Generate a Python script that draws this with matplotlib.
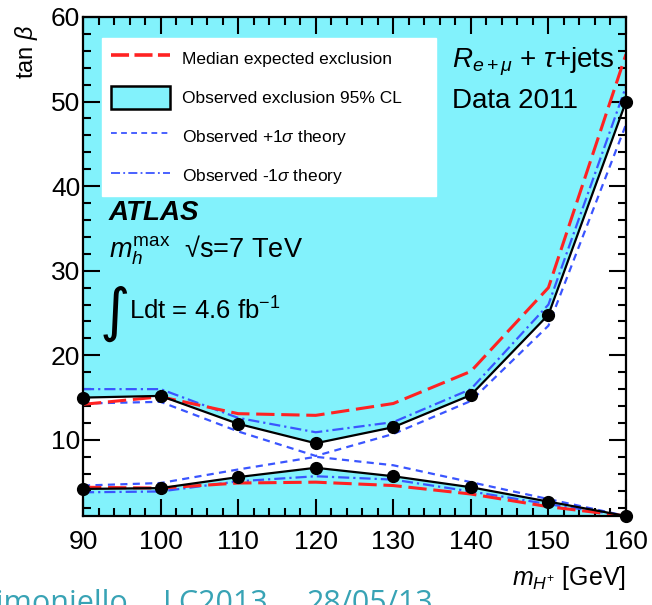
import matplotlib
matplotlib.use("Agg")
import matplotlib.pyplot as plt
from matplotlib.lines import Line2D
from matplotlib.patches import Patch
from matplotlib.ticker import MultipleLocator

plt.rcParams['font.family'] = ['Liberation Sans', 'DejaVu Sans']
plt.rcParams['mathtext.fontset'] = 'custom'
plt.rcParams['mathtext.rm'] = 'Liberation Sans'
plt.rcParams['mathtext.it'] = 'Liberation Sans:italic'
plt.rcParams['mathtext.bf'] = 'Liberation Sans:bold'

# charged Higgs mass points (GeV)
mass = [90, 100, 110, 120, 130, 140, 150, 160]

# observed 95% CL exclusion, upper and lower branches in tan(beta)
obs_hi = [15.0, 15.2, 11.9, 9.6, 11.5, 15.3, 24.8, 50.0]
obs_lo = [4.2, 4.3, 5.6, 6.7, 5.7, 4.4, 2.7, 1.0]

# median expected exclusion
exp_hi = [14.2, 15.1, 13.1, 12.9, 14.3, 18.1, 28.0, 55.6]
exp_lo = [4.4, 4.3, 4.9, 5.0, 4.6, 3.6, 2.1, 1.0]

# observed with +1 sigma theory uncertainty
plus_hi = [14.3, 14.5, 11.0, 8.1, 10.7, 14.6, 23.5, 47.3]
plus_lo = [4.6, 4.9, 6.5, 8.0, 7.0, 5.0, 3.0, 1.0]

# observed with -1 sigma theory uncertainty
minus_hi = [16.0, 16.0, 12.6, 10.9, 12.1, 16.0, 26.0, 51.8]
minus_lo = [3.8, 3.9, 5.1, 5.7, 5.3, 3.9, 2.4, 1.0]

W, H = 652, 605
cyan = '#82F2FC'
red = '#FF2222'
blue = '#3A55FF'


def fpos(x, y):
    # pixel position -> figure fraction
    return x / W, 1 - y / H


fig = plt.figure(figsize=(W / 100, H / 100), dpi=100)
ax = fig.add_axes([83 / W, (H - 516) / H, 543 / W, 499 / H])

# excluded region is everything outside the observed band
ax.set_facecolor(cyan)
ax.fill_between(mass, obs_lo, obs_hi, color='white', lw=0)

for y in (plus_hi, plus_lo):
    ax.plot(mass, y, color=blue, lw=1.6, dashes=(3.2, 2.4))
for y in (minus_hi, minus_lo):
    ax.plot(mass, y, color=blue, lw=1.6, dashes=(5, 1.8, 1, 1.8))
for y in (exp_hi, exp_lo):
    ax.plot(mass, y, color=red, lw=2.2, dashes=(6, 2.2))
for y in (obs_hi, obs_lo):
    ax.plot(mass, y, color='black', lw=1.6, marker='o', ms=8.5, clip_on=False, zorder=5)

ax.set_xlim(90, 160)
ax.set_ylim(1, 60)
ax.xaxis.set_major_locator(MultipleLocator(10))
ax.xaxis.set_minor_locator(MultipleLocator(2))
ax.yaxis.set_major_locator(MultipleLocator(10))
ax.yaxis.set_minor_locator(MultipleLocator(2))
ax.tick_params(which='both', direction='in', top=True, right=True, width=1.5, labelsize=19)
ax.tick_params(which='major', length=12)
ax.tick_params(which='minor', length=6)
ax.tick_params(axis='x', which='major', pad=10)
ax.tick_params(axis='y', which='major', pad=2)
for s in ax.spines.values():
    s.set_linewidth(1.6)

handles = [
    Line2D([], [], color=red, lw=2.6, dashes=(5, 1.5)),
    Patch(facecolor=cyan, edgecolor='black', lw=1.8),
    Line2D([], [], color=blue, lw=1.3, dashes=(3.2, 2.4)),
    Line2D([], [], color=blue, lw=1.3, dashes=(5, 1.8, 1, 1.8)),
]
labels = ['Median expected exclusion', 'Observed exclusion 95% CL',
          r'Observed +1$\sigma$ theory', r'Observed -1$\sigma$ theory']
ax.legend(handles, labels, loc='upper left', bbox_to_anchor=(0.035, 0.958, 0.615, 0.0),
          mode='expand', fontsize=12.5, frameon=True, fancybox=False, edgecolor='white',
          framealpha=1, borderpad=0.5, handlelength=3.4, handleheight=1.7,
          labelspacing=0.9, handletextpad=0.7, borderaxespad=0)

# annotations
fig.text(*fpos(452, 62), r'$R_{e+\mu}$ + $\tau$+jets', fontsize=20, va='center')
fig.text(*fpos(452, 101), 'Data 2011', fontsize=20, va='center')
fig.text(*fpos(109, 213), 'ATLAS', fontsize=20, fontweight='bold', fontstyle='italic', va='center')
fig.text(*fpos(109, 250), r'$m_h^{\mathrm{max}}$  √s=7 TeV', fontsize=19.5, va='center')
fig.text(*fpos(100, 314), '∫', fontsize=42, va='center', family='DejaVu Sans')
fig.text(*fpos(129, 311), 'Ldt = 4.6 fb$^{\\mathrm{-1}}$', fontsize=18.5, va='center')

fig.text(*fpos(26, 52), r'tan $\beta$', fontsize=17, rotation=90, ha='center', va='center')
fig.text(*fpos(626, 578), r'$m_{H^{+}}$ [GeV]', fontsize=18, ha='right', va='center')

# slide footer
foot = dict(fontsize=22, color='#38A3B5', family='Open Sans', va='baseline')
fig.text(*fpos(128, 612), 'Simoniello', ha='right', **foot)
fig.text(*fpos(163, 612), 'LC2013', **foot)
fig.text(*fpos(307, 612), '28/05/13', **foot)

fig.savefig('out.png', dpi=100)
